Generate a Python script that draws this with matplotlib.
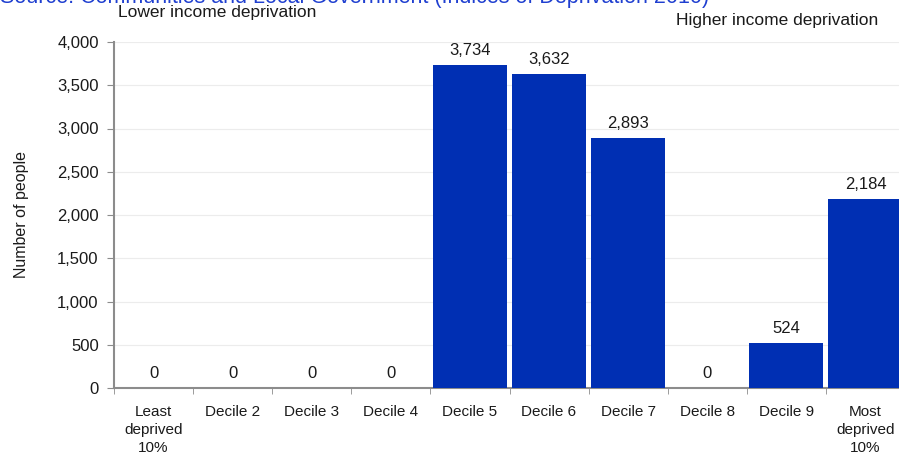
import numpy as np
import matplotlib.pyplot as plt

plt.rcParams['font.family'] = ['Liberation Sans', 'DejaVu Sans']

categories = ['Least\ndeprived\n10%', 'Decile 2', 'Decile 3', 'Decile 4', 'Decile 5',
              'Decile 6', 'Decile 7', 'Decile 8', 'Decile 9', 'Most\ndeprived\n10%']
people = [0, 0, 0, 0, 3734, 3632, 2893, 0, 524, 2184]

bar_color = '#002FB3'
axis_grey = '#8c8c8c'

fig = plt.figure(figsize=(8.99, 4.66), dpi=100)
ax = fig.add_axes([114 / 899, 78 / 466, 791 / 899, 346 / 466])

x = np.arange(len(categories))
ax.bar(x, people, width=0.935, color=bar_color, zorder=3)
for xi, v in zip(x, people):
    ax.annotate(f'{v:,}', (xi, v), xytext=(0, 5), textcoords='offset points',
                ha='center', va='bottom', fontsize=12, color='#1a1a1a')

ax.set_xlim(-0.5, len(categories) - 0.5)
ax.set_ylim(0, 4000)
ax.set_yticks(np.arange(0, 4001, 500))
ax.yaxis.set_major_formatter(plt.FuncFormatter(lambda v, p: f'{int(v):,}'))
ax.set_xticks(x)
ax.set_xticklabels(categories, fontsize=11, color='#1a1a1a', linespacing=1.4)
ax.set_xticks(np.arange(-0.5, len(categories)), minor=True)
ax.tick_params(axis='x', which='major', length=0, pad=12)
ax.tick_params(axis='x', which='minor', length=4, color=axis_grey, direction='out')
ax.tick_params(axis='y', length=5, color=axis_grey, direction='out', labelsize=12,
               labelcolor='#1a1a1a', pad=6)
ax.grid(axis='y', color='#ececec', linewidth=0.8, zorder=0)
for s in ['top', 'right']:
    ax.spines[s].set_visible(False)
for s in ['left', 'bottom']:
    ax.spines[s].set_color(axis_grey)
    ax.spines[s].set_linewidth(1.5)
ax.set_ylabel('Number of people', fontsize=11.5, color='#1a1a1a', labelpad=20)

fig.text(118 / 899, 1 - 13 / 466, 'Lower income deprivation', fontsize=12.5,
         ha='left', va='center', color='#1a1a1a')
fig.text(878 / 899, 1 - 20 / 466, 'Higher income deprivation', fontsize=12.5,
         ha='right', va='center', color='#1a1a1a')
# source line sits mostly above the top edge, as in the original
fig.text(0.5 / 899, 1 - 3 / 466, 'Source: Communities and Local Government (Indices of Deprivation 2010)',
         fontsize=15.5, ha='left', va='baseline', color='#1f3fd0')

fig.savefig('out.png', dpi=100)
